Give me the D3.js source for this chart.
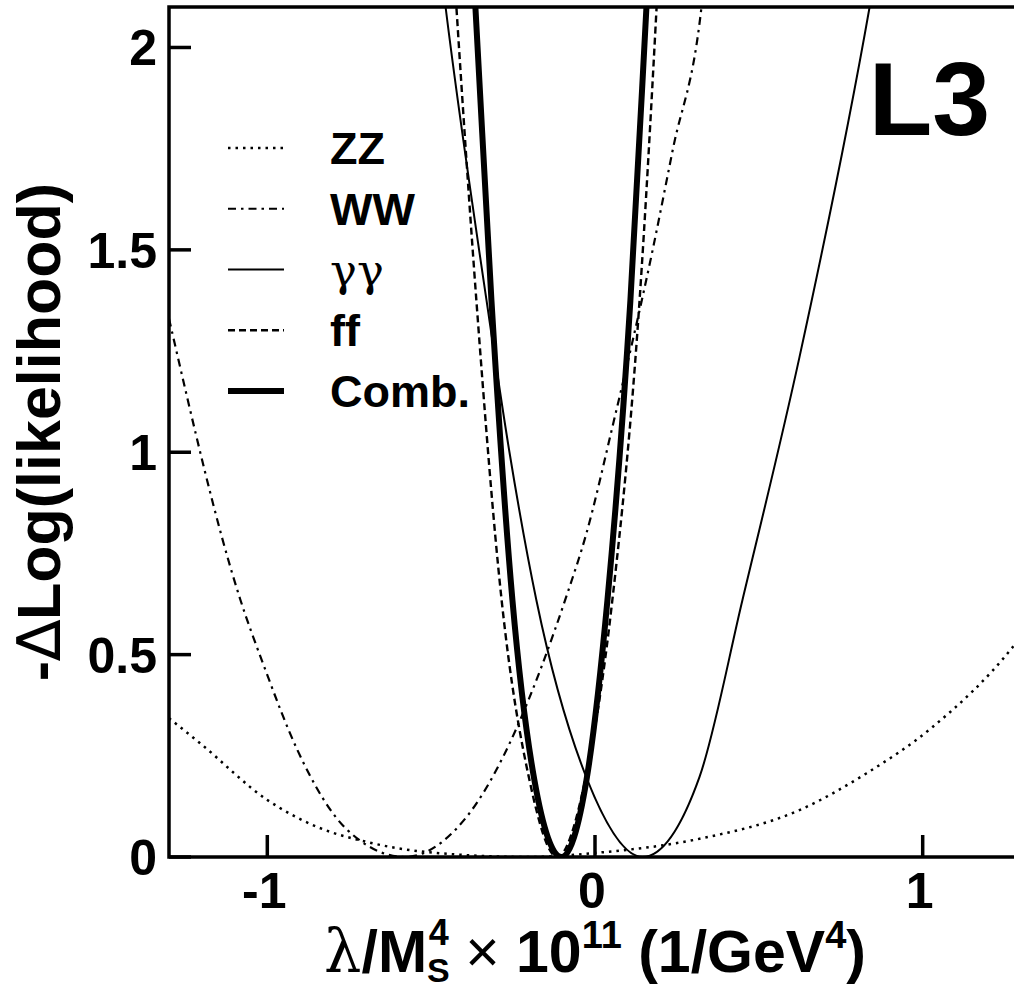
<!DOCTYPE html>
<html>
<head>
<meta charset="utf-8">
<script src="https://cdn.jsdelivr.net/npm/d3@7"></script>
<style>
  body { margin: 0; background: #fff; }
  svg { display: block; }
</style>
</head>
<body>
<div id="chart"></div>
<script>
// curves: [lambda/Ms^4 x 1e11, -dLogL]
const zzCurve = [[-1.3,0.343],[-1.205,0.281],[-1.0,0.141],[-0.847,0.074],[-0.695,0.037],[-0.511,0.012],[-0.2,0],[0,0.01],[0.319,0.045],[0.624,0.116],[0.829,0.207],[1.03,0.321],[1.275,0.519],[1.3,0.545]];
const wwCurve = [[-1.3,1.33],[-1.082,0.635],[-1.009,0.469],[-0.908,0.264],[-0.756,0.067],[-0.58,0],[-0.40,0.091],[-0.084,0.652],[-0.026,0.80],[0.053,1.062],[0.176,1.5],[0.237,1.746],[0.325,2.1],[0.35,2.3]];
const ggCurve = [[-0.5,2.4],[-0.456,2.1],[-0.331,1.375],[-0.261,1.0],[-0.179,0.635],[-0.023,0.19],[0.145,0],[0.319,0.198],[0.45,0.635],[0.624,1.235],[0.838,2.1],[0.87,2.25]];
const ffCurve = [[-0.45,2.45],[-0.423,2.1],[-0.362,1.375],[-0.285,0.635],[-0.2,0.19],[-0.115,0],[-0.03,0.19],[0.053,0.635],[0.136,1.375],[0.188,2.1],[0.21,2.45]];
const combCurve = [[-0.39,2.45],[-0.365,2.1],[-0.316,1.375],[-0.252,0.635],[-0.185,0.19],[-0.102,0],[-0.026,0.19],[0.038,0.635],[0.108,1.375],[0.157,2.1],[0.18,2.45]];

const xTicks = [-1, 0, 1];
const yTicks = [0, 0.5, 1, 1.5, 2];
const legendNames = ["ZZ", "WW", "\u03b3\u03b3", "ff", "Comb."];

const W = 1014, H = 994;
const frameL = 169, frameR = 1021, frameT = 7, frameB = 857;

const x = d3.scaleLinear().domain([-1.3, 1.3]).range([frameL, frameR]);
const y = d3.scaleLinear().domain([0, 2.1]).range([frameB, frameT]);

const svg = d3.select("#chart").append("svg")
  .attr("width", W).attr("height", H)
  .style("font-family", "'Liberation Sans', Arial, sans-serif");

svg.append("clipPath").attr("id", "frame")
  .append("rect").attr("x", frameL).attr("y", frameT)
  .attr("width", frameR - frameL).attr("height", frameB - frameT);

const styles = [
  {data: zzCurve, width: 2.5, dash: "2.5,5"},
  {data: wwCurve, width: 2.2, dash: "8,5,2.5,5"},
  {data: ggCurve, width: 2, dash: null},
  {data: ffCurve, width: 2.4, dash: "7,4"},
  {data: combCurve, width: 6, dash: null}
];

const line = d3.line()
  .x(d => x(d[0]))
  .y(d => y(d[1]))
  .curve(d3.curveMonotoneX);

const plot = svg.append("g").attr("clip-path", "url(#frame)");
styles.forEach(s => {
  plot.append("path")
    .datum(s.data)
    .attr("d", line)
    .attr("fill", "none")
    .attr("stroke", "#000")
    .attr("stroke-width", s.width)
    .attr("stroke-dasharray", s.dash);
});

// frame
svg.append("rect")
  .attr("x", frameL).attr("y", frameT)
  .attr("width", frameR - frameL).attr("height", frameB - frameT)
  .attr("fill", "none").attr("stroke", "#000").attr("stroke-width", 3.5);

// ticks
const tickLen = 22;
svg.selectAll(".xtick").data(xTicks).enter().append("line")
  .attr("x1", d => x(d)).attr("x2", d => x(d))
  .attr("y1", frameB).attr("y2", frameB - tickLen)
  .attr("stroke", "#000").attr("stroke-width", 3.5);
svg.selectAll(".ytick").data(yTicks).enter().append("line")
  .attr("x1", frameL).attr("x2", frameL + tickLen)
  .attr("y1", d => y(d)).attr("y2", d => y(d))
  .attr("stroke", "#000").attr("stroke-width", 3.5);

svg.selectAll(".xlab").data(xTicks).enter().append("text")
  .attr("x", d => x(d) - 3).attr("y", 908)
  .attr("text-anchor", "middle")
  .attr("font-size", 50).attr("font-weight", "bold")
  .text(d => d);
svg.selectAll(".ylab").data(yTicks).enter().append("text")
  .attr("x", 157).attr("y", d => y(d) + 18)
  .attr("text-anchor", "end")
  .attr("font-size", 50).attr("font-weight", "bold")
  .text(d => d);

// x title
const xt = svg.append("text")
  .attr("x", x(0)).attr("y", 972)
  .attr("text-anchor", "middle")
  .attr("font-size", 59).attr("font-weight", "bold");
xt.append("tspan").attr("font-family", "'DejaVu Serif', serif").attr("font-weight", "normal").text("\u03bb");
xt.append("tspan").text("/M");
xt.append("tspan").attr("font-size", 34).attr("dy", 10).text("S");
xt.append("tspan").attr("font-size", 36).attr("dx", -21).attr("dy", -37).text("4");
xt.append("tspan").attr("font-weight", "normal").attr("dy", 27).text(" \u00d7 ");
xt.append("tspan").text("10");
xt.append("tspan").attr("font-size", 38).attr("dy", -24).text("11");
xt.append("tspan").attr("dy", 24).text(" (1/GeV");
xt.append("tspan").attr("font-size", 38).attr("dy", -24).text("4");
xt.append("tspan").attr("dy", 24).text(")");

// y title
const yt = svg.append("text")
  .attr("transform", `translate(60,${(frameT + frameB) / 2}) rotate(-90)`)
  .attr("text-anchor", "middle")
  .attr("font-size", 61).attr("font-weight", "bold");
yt.append("tspan").text("-");
yt.append("tspan").attr("font-family", "'DejaVu Sans', sans-serif").attr("font-weight", "normal").text("\u2206");
yt.append("tspan").text("Log(likelihood)");

// L3 label
svg.append("text")
  .attr("x", 990).attr("y", 135)
  .attr("text-anchor", "end")
  .attr("font-size", 104).attr("font-weight", "bold")
  .text("L3");

// legend
const legendY = d3.scaleLinear().domain([0, 4]).range([148, 391]);
const lg = svg.append("g");
styles.forEach((s, i) => {
  lg.append("line")
    .attr("x1", 228).attr("x2", 284)
    .attr("y1", legendY(i)).attr("y2", legendY(i))
    .attr("stroke", "#000")
    .attr("stroke-width", s.width)
    .attr("stroke-dasharray", s.dash);
  const t = lg.append("text")
    .attr("x", 330).attr("y", legendY(i) + 16)
    .attr("font-size", 45)
    .text(legendNames[i]);
  if (i === 2) {
    t.attr("font-family", "'DejaVu Serif', serif").attr("font-weight", "normal");
  } else {
    t.attr("font-weight", "bold");
  }
});
</script>
</body>
</html>
